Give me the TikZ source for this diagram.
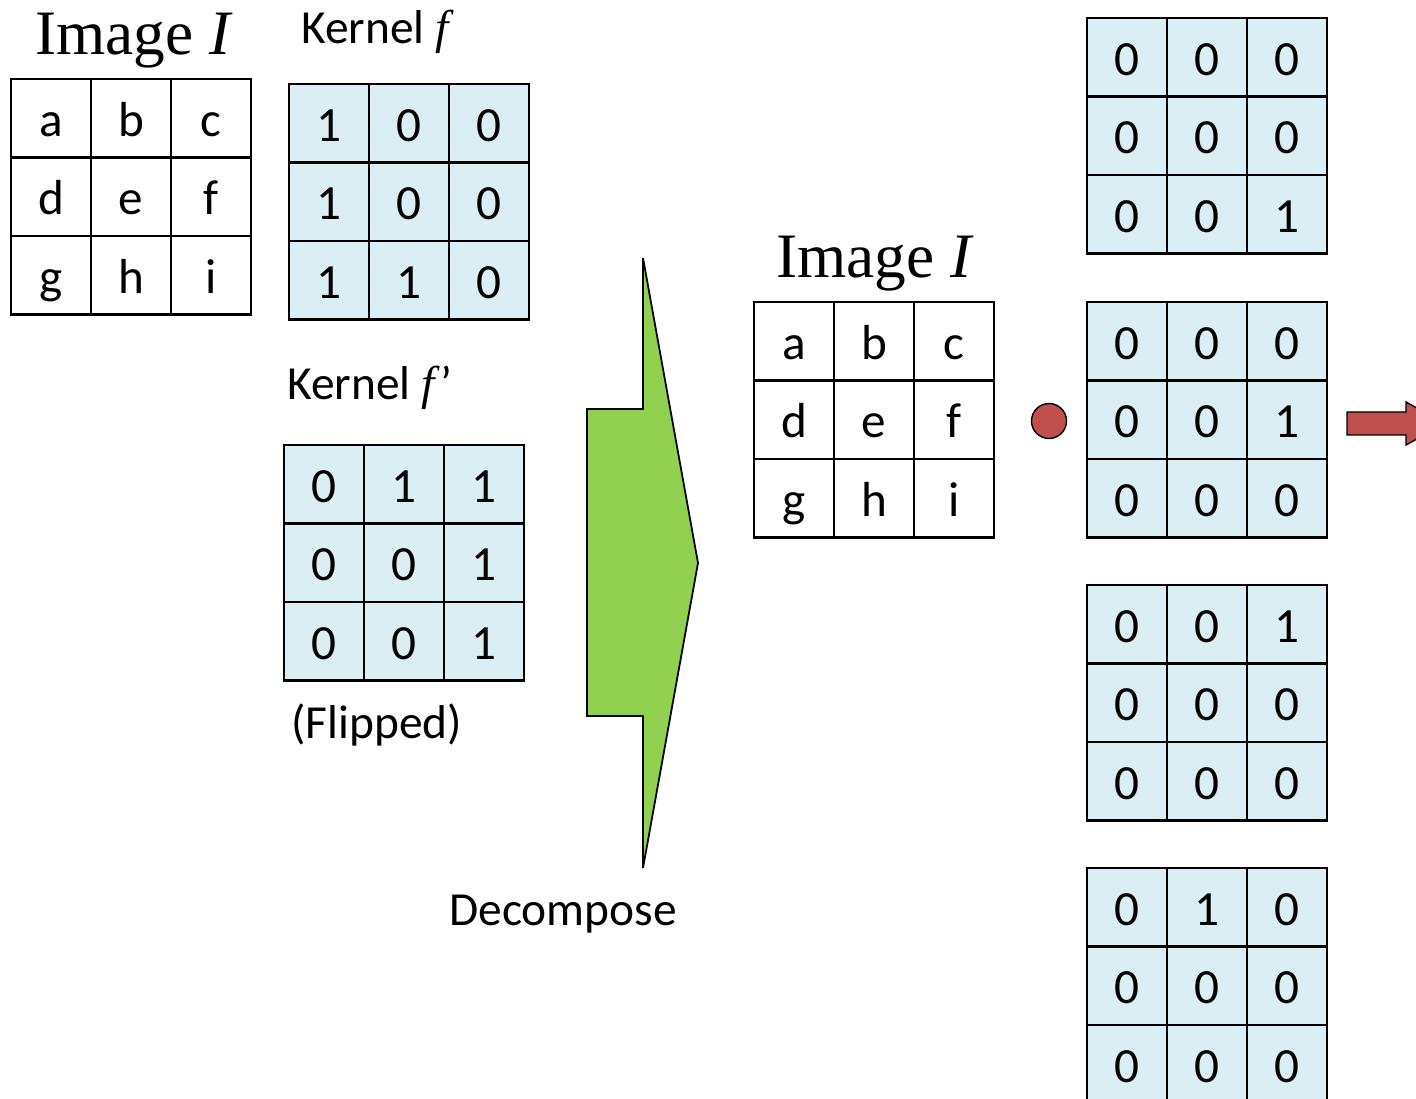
\documentclass[tikz,border=0pt]{standalone}
\usepackage{fontspec}
\setmainfont{Carlito}
\newfontfamily\timesfont{Liberation Serif}
\usetikzlibrary{shapes.geometric, arrows}
\definecolor{cellblue}{HTML}{DBEEF3}
\definecolor{arrowgreen}{HTML}{92D050}
\definecolor{dotred}{HTML}{C0504D}
\tikzstyle{cell} = [rectangle, minimum width=1.6cm, minimum height=1.57cm, inner sep=0pt, text centered, text height=0.72cm, text depth=0pt, draw=black, line width=1.2pt, font=\fontsize{28}{32}\selectfont]
\tikzstyle{imgtitle} = [anchor=base west, inner sep=0pt, font=\timesfont\fontsize{36}{40}\selectfont]
\tikzstyle{caption} = [anchor=base west, inner sep=0pt, font=\fontsize{27}{31}\selectfont]
% name, left x, top y, fill, entries
\newcommand{\grid}[5]{%
  \foreach \v [count=\i from 0] in {#5} {
    \pgfmathtruncatemacro{\r}{int(\i/3)}
    \pgfmathtruncatemacro{\c}{\i-3*\r}
    \node (#1-\r-\c) [cell, fill=#4] at ({#2+0.8+1.6*\c}, {#3-0.785-1.57*\r}) {\v};
  }%
}

\begin{document}
\begin{tikzpicture}
		\useasboundingbox (0,0) rectangle (28.32,-21.98);
		% left side: image and kernels
		\node (img_title) [imgtitle] at (0.7,-1.1) {Image \textit{I}};
		\grid{img}{0.22}{-1.58}{white}{a,b,c,d,e,f,g,h,i}
		\node (kern_title) [caption] at (6.02,-0.88) {Kernel {\timesfont\itshape f}};
		\grid{kern}{5.78}{-1.68}{cellblue}{1,0,0,1,0,0,1,1,0}
		\node (flip_title) [caption] at (5.74,-8.0) {Kernel {\timesfont\itshape f}\kern0.12em’};
		\grid{flip}{5.68}{-8.9}{cellblue}{0,1,1,0,0,1,0,0,1}
		\node (flipped) [caption] at (5.82,-14.76) {(Flipped)};
		% decompose arrow
		\draw [fill=arrowgreen, line width=1pt] (11.74,-8.18) -- (12.86,-8.18) -- (12.86,-5.16) -- (13.96,-11.26) -- (12.86,-17.36) -- (12.86,-14.32) -- (11.74,-14.32) -- cycle;
		\node (decomp) [caption] at (8.98,-18.5) {Decompose};
		% right side
		\node (img2_title) [imgtitle] at (15.52,-5.56) {Image \textit{I}};
		\grid{imgb}{15.08}{-6.04}{white}{a,b,c,d,e,f,g,h,i}
		\node (dot) [circle, draw=black, line width=0.8pt, fill=dotred, minimum size=0.7cm, inner sep=0pt] at (20.98,-8.42) {};
		\grid{ka}{21.74}{-0.36}{cellblue}{0,0,0,0,0,0,0,0,1}
		\grid{kb}{21.74}{-6.04}{cellblue}{0,0,0,0,0,1,0,0,0}
		\grid{kc}{21.74}{-11.70}{cellblue}{0,0,1,0,0,0,0,0,0}
		\grid{kd}{21.74}{-17.36}{cellblue}{0,1,0,0,0,0,0,0,0}
		\draw [fill=dotred, line width=0.8pt] (26.94,-8.24) -- (28.12,-8.24) -- (28.12,-8.04) -- (28.9,-8.47) -- (28.12,-8.9) -- (28.12,-8.7) -- (26.94,-8.7) -- cycle;
\end{tikzpicture}
\end{document}
